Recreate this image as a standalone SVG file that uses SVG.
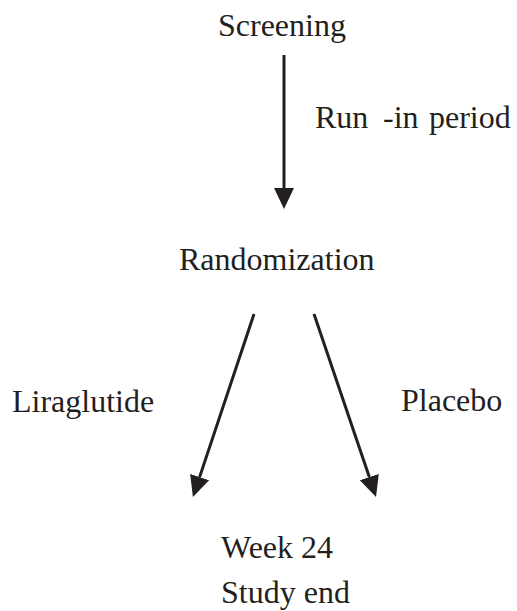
<svg xmlns="http://www.w3.org/2000/svg" width="517" height="611" viewBox="0 0 517 611">
<style>
.t{font-family:"Liberation Serif","Times New Roman",serif;font-size:32px;fill:#231f20}
.c{stroke:#231f20;stroke-width:3;fill:none}
</style>
<defs>
<marker id="ah" markerUnits="userSpaceOnUse" markerWidth="22" markerHeight="22" viewBox="0 -11 22 22" refX="0" refY="0" orient="auto">
<path d="M0,-10 L21,0 L0,10 Z" fill="#231f20"/>
</marker>
</defs>
<rect width="517" height="611" fill="#fff"/>
<g id="connectors">
<line class="c" x1="284" y1="55" x2="284" y2="188" marker-end="url(#ah)"/>
<line class="c" x1="254" y1="314" x2="199.6" y2="477.1" marker-end="url(#ah)"/>
<line class="c" x1="314" y1="314" x2="369.3" y2="477.1" marker-end="url(#ah)"/>
</g>
<g id="screening"><text class="t" x="218" y="36">Screening</text></g>
<g id="runin"><text class="t" y="128"><tspan x="315">Run</tspan><tspan x="383">-in</tspan><tspan x="429">period</tspan></text></g>
<g id="randomization"><text class="t" x="179" y="270">Randomization</text></g>
<g id="liraglutide"><text class="t" x="12" y="412">Liraglutide</text></g>
<g id="placebo"><text class="t" x="401" y="411">Placebo</text></g>
<g id="end"><text class="t" x="221" y="558">Week 24</text><text class="t" x="221" y="603">Study end</text></g>
</svg>
